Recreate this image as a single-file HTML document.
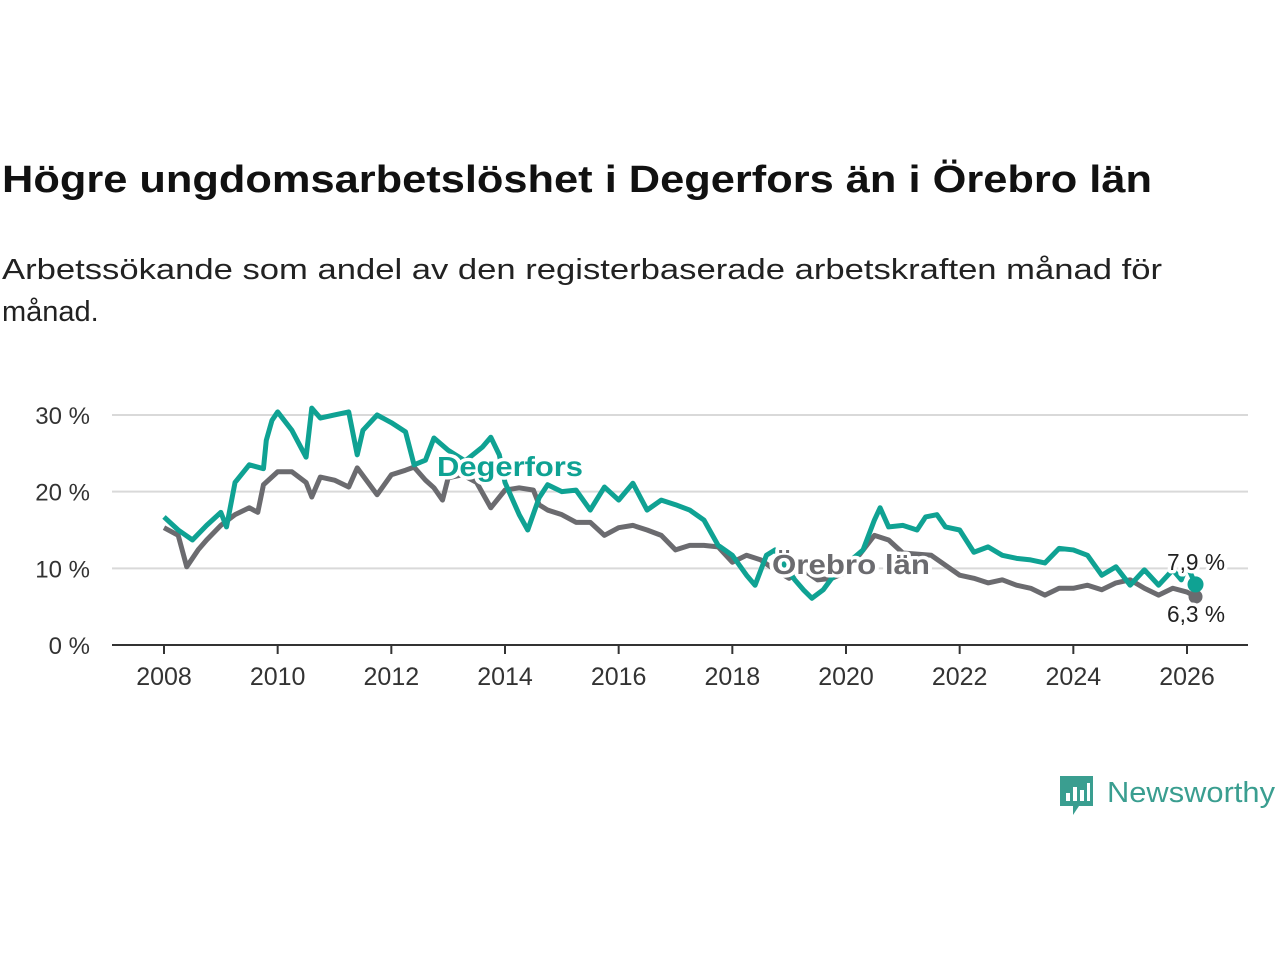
<!DOCTYPE html>
<html><head><meta charset="utf-8"><style>
body{margin:0;background:#fff;width:1280px;height:960px;overflow:hidden;font-family:"Liberation Sans",sans-serif}
</style></head><body>
<svg width="1280" height="960" viewBox="0 0 1280 960">
<text x="2" y="192" font-size="38" font-weight="bold" fill="#111" textLength="1150" lengthAdjust="spacingAndGlyphs">Högre ungdomsarbetslöshet i Degerfors än i Örebro län</text>
<text x="2" y="279" font-size="29" fill="#222" textLength="1160" lengthAdjust="spacingAndGlyphs">Arbetssökande som andel av den registerbaserade arbetskraften månad för</text>
<text x="2" y="321" font-size="29" fill="#222">månad.</text>
<g id="grid"></g>
<g id="series"></g>
<g id="labels"></g>
<g>
<path d="M1060 776h33v30h-14l-6 9v-9h-13z" fill="#3a9e90"/>
<rect x="1066" y="793" width="4" height="8" fill="#fff"/><rect x="1073" y="787" width="4" height="14" fill="#fff"/><rect x="1080" y="790" width="4" height="11" fill="#fff"/><rect x="1087" y="783" width="3" height="18" fill="#fff"/>
<text x="1107" y="802" font-size="29" fill="#3a9e90" textLength="168" lengthAdjust="spacingAndGlyphs">Newsworthy</text>
</g>
</svg>
<script>
const yTicks=[0,10,20,30];
const yTickLabels=["0 %","10 %","20 %","30 %"];
const xTicks=[2008,2010,2012,2014,2016,2018,2020,2022,2024,2026];
const degDates=[2008,2008.25,2008.5,2008.75,2009,2009.1,2009.25,2009.5,2009.75,2009.8,2009.9,2010,2010.25,2010.5,2010.6,2010.75,2011,2011.25,2011.4,2011.5,2011.75,2012,2012.25,2012.4,2012.6,2012.75,2013,2013.3,2013.6,2013.75,2013.9,2014,2014.25,2014.4,2014.6,2014.75,2015,2015.25,2015.5,2015.75,2016,2016.25,2016.5,2016.75,2017,2017.25,2017.5,2017.75,2018,2018.25,2018.4,2018.6,2018.75,2018.95,2019.1,2019.25,2019.4,2019.6,2019.75,2020,2020.3,2020.5,2020.6,2020.75,2021,2021.25,2021.4,2021.6,2021.75,2022,2022.25,2022.5,2022.75,2023,2023.25,2023.5,2023.75,2024,2024.25,2024.5,2024.75,2025,2025.25,2025.5,2025.75,2025.9,2026,2026.15];
const degValues=[16.7,15,13.7,15.6,17.3,15.4,21.2,23.5,23,26.7,29.3,30.4,28,24.5,30.9,29.6,30,30.4,24.8,28,30,29,27.8,23.5,24.1,27,25.4,24,25.8,27.1,24.8,21.2,17,15,19.2,20.9,20,20.2,17.6,20.6,18.9,21.1,17.6,18.9,18.3,17.6,16.3,13,11.7,9.1,7.8,11.7,12.4,10,8.5,7.2,6.1,7.2,8.7,10.5,12.4,16.3,17.9,15.4,15.6,15,16.7,17,15.4,15,12.1,12.8,11.7,11.3,11.1,10.7,12.6,12.4,11.7,9.1,10.2,7.8,9.8,7.8,9.8,8.5,10.4,7.9];
const oreDates=[2008,2008.25,2008.4,2008.6,2008.75,2009,2009.25,2009.5,2009.65,2009.75,2010,2010.25,2010.5,2010.6,2010.75,2011,2011.25,2011.4,2011.6,2011.75,2012,2012.25,2012.4,2012.6,2012.75,2012.9,2013,2013.25,2013.5,2013.75,2014,2014.25,2014.5,2014.6,2014.75,2015,2015.25,2015.5,2015.75,2016,2016.25,2016.5,2016.75,2017,2017.25,2017.5,2017.75,2018,2018.25,2018.5,2018.75,2019,2019.25,2019.5,2019.75,2020,2020.5,2020.75,2021,2021.5,2022,2022.25,2022.5,2022.75,2023,2023.25,2023.5,2023.75,2024,2024.25,2024.5,2024.75,2025,2025.25,2025.5,2025.75,2026,2026.15];
const oreValues=[15.3,14.3,10.2,12.4,13.7,15.6,17,17.9,17.3,20.9,22.6,22.6,21.2,19.3,21.9,21.5,20.6,23.1,21.1,19.6,22.2,22.8,23.2,21.5,20.5,18.9,21.8,22.2,21.2,17.9,20.2,20.5,20.2,18.3,17.6,17,16,16,14.3,15.3,15.6,15,14.3,12.4,13,13,12.8,10.8,11.7,11.1,9.8,8.7,9.8,8.5,8.7,9.5,14.3,13.7,12,11.7,9.1,8.7,8.1,8.5,7.8,7.4,6.5,7.4,7.4,7.8,7.2,8.1,8.5,7.4,6.5,7.4,6.9,6.3];
const NS="http://www.w3.org/2000/svg";
const x=v=>164+(v-2008)*(1187-164)/18;
const y=v=>645-v*7.667;
function mk(t,a,p){const e=document.createElementNS(NS,t);for(const k in a)e.setAttribute(k,a[k]);p.appendChild(e);return e;}
const grid=document.getElementById('grid');
yTicks.forEach((t,i)=>{
 if(t>0){const l=mk('line',{x1:112,x2:1248,y1:y(t),y2:y(t),stroke:'#d9d9d9','stroke-width':2},grid);
 
 }
 const tx=mk('text',{x:90,y:y(t)+9,'font-size':24,fill:'#333','text-anchor':'end'},grid);tx.textContent=yTickLabels[i];
 
 
});
const ax=mk('line',{x1:112,x2:1248,y1:645,y2:645,stroke:'#333','stroke-width':2},grid);


xTicks.forEach(t=>{
 const tk=mk('line',{x1:x(t),x2:x(t),y1:645,y2:654,stroke:'#333','stroke-width':2},grid);
 
 
 const tx=mk('text',{x:x(t),y:685,'font-size':25,fill:'#333','text-anchor':'middle'},grid);tx.textContent=t;
 
 
});
const S=document.getElementById('series');
function line(d,v,c,n){const p=mk('polyline',{points:d.map((t,i)=>x(t)+','+y(v[i])).join(' '),fill:'none',stroke:c,'stroke-width':5,'stroke-linejoin':'round'},S);
 
 }
line(oreDates,oreValues,'#6b6b6f','line-orebro');
line(degDates,degValues,'#0fa293','line-degerfors');
const L=document.getElementById('labels');
function lab(tx,xx,yy,c,n,sz,bold,halo,len){const a={x:xx,y:yy,'font-size':sz,fill:c,'font-weight':bold?'bold':'normal',stroke:halo?'#fff':'none','stroke-width':halo?7:0,'paint-order':'stroke','stroke-linejoin':'round'};if(len){a.textLength=len;a.lengthAdjust='spacingAndGlyphs';}const t=mk('text',a,L);t.textContent=tx;
 
 }
lab('Degerfors',437,476,'#0fa293','label-degerfors',28,true,true,146);
lab('Örebro län',772,574,'#6b6b6f','label-orebro',28,true,true,158);
const lastD=degDates.length-1,lastO=oreDates.length-1;
const c2=mk('circle',{cx:x(oreDates[lastO]),cy:y(oreValues[lastO]),r:7,fill:'#6b6b6f'},L);


const c1=mk('circle',{cx:x(degDates[lastD]),cy:y(degValues[lastD]),r:8,fill:'#0fa293'},L);


lab(String(degValues[lastD]).replace('.',',')+' %',1167,570,'#222','end-value-degerfors',23,false,true,58);
lab(String(oreValues[lastO]).replace('.',',')+' %',1167,622,'#222','end-value-orebro',23,false,true,58);
</script>
</body></html>
